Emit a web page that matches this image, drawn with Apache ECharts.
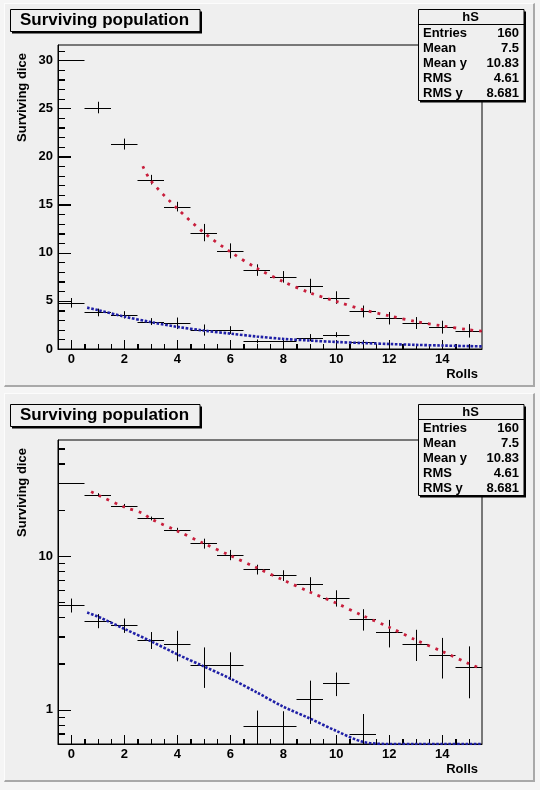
<!DOCTYPE html>
<html><head><meta charset="utf-8">
<script src="https://cdn.jsdelivr.net/npm/echarts@6/dist/echarts.min.js"></script>
<style>
html,body{margin:0;padding:0;background:#f5f5f5;}
#wrap{position:relative;width:540px;height:790px;overflow:hidden;}
.pad{position:absolute;box-sizing:border-box;background:#efefef;border-top:1px solid #fcfcfc;border-left:1px solid #fcfcfc;border-right:2px solid #a9a9a9;border-bottom:2px solid #a9a9a9;}
#chart{position:absolute;left:0;top:0;width:540px;height:790px;}
</style></head>
<body>
<div id="wrap">
<div class="pad" style="left:4px;top:3px;width:531px;height:384px"></div>
<div class="pad" style="left:4px;top:393px;width:531px;height:389px"></div>
<div id="chart"></div>
</div>
<script>
// ---- data ----
const bins = [0,1,2,3,4,5,6,7,8,9,10,11,12,13,14,15];
const survivors   = [30.0,25.1,21.3,17.6,14.8,12.1,10.2,8.2,7.5,6.55,5.35,3.9,3.2,2.7,2.27,1.89];
const survivorErr = [0,0.6,0.57,0.5,0.5,0.9,0.78,0.6,0.6,0.75,0.65,0.62,0.65,0.62,0.67,0.7];
const dieCount    = [4.8,3.8,3.55,2.85,2.67,1.97,1.97,0.79,0.79,1.18,1.49,0.70,0,0,0,0];
const dieErr      = [0.5,0.4,0.38,0.36,0.6,0.58,0.4,0.2,0.19,0.37,0.26,0.24,0,0,0,0];
const redCurveX  = [0.75,1,2,2.7,3,4,5,6,7,8,9,10,11,12,13,14,15,15.5];
const redCurveY  = [26.3,25.0,20.9,19.0,17.5,14.6,12.1,10.1,8.4,7.0,5.85,4.95,4.1,3.45,2.85,2.4,2.0,1.85];
const blueCurveX = [0.6,1,2,3,4,5,6,7,8,9,10,11,12,13,14,15,15.5];
const blueCurveY = [4.3,4.05,3.37,2.8,2.3,1.92,1.6,1.3,1.05,0.88,0.73,0.62,0.52,0.43,0.36,0.3,0.27];
const xTickMajor = [0,2,4,6,8,10,12,14];
const xTickMinor = [0.5,1,1.5,2.5,3,3.5,4.5,5,5.5,6.5,7,7.5,8.5,9,9.5,10.5,11,11.5,12.5,13,13.5,14.5,15];
const linTickMajor = [0,5,10,15,20,25,30];
const linTickMinor = [1,2,3,4,6,7,8,9,11,12,13,14,16,17,18,19,21,22,23,24,26,27,28,29,31];
const logTickMajor = [1,10];
const logTickMinor = [0.7,0.8,0.9,2,3,4,5,6,7,8,9,20,30,40,50];
const statLabels = ['Entries','Mean','Mean y','RMS','RMS y'];
const statValues = ['160','7.5','10.83','4.61','8.681'];
const titleText = 'Surviving population';
const statsTitle = 'hS';
const xTitle = 'Rolls';
const yTitle = 'Surviving dice';

const X_MIN = -0.5, X_MAX = 15.5, LIN_MAX = 31.6, LOG_MIN = 0.6, LOG_MAX = 57;
const FONT = '"Liberation Sans", Arial, Helvetica, sans-serif';
const PANEL_DY = 395;
const TICK_LEN = [9, 5, 13, 7]; // x major, x minor, y major, y minor

function vLine(x, y1, y2){ const xx = Math.round(x) + 0.5; return {type:'polyline', shape:{points:[[xx, y1],[xx, y2]]}, style:{stroke:'#000', lineWidth:1, fill:null}}; }
function hLine(x1, x2, y){ const yy = Math.round(y) + 0.5; return {type:'polyline', shape:{points:[[x1, yy],[x2, yy]]}, style:{stroke:'#000', lineWidth:1, fill:null}}; }

// ROOT-style inside tick marks, placed through the axis scales (api.coord)
function tickChildren(api, isLog){
  const out = [];
  const yBase = isLog ? LOG_MIN : 0;
  const yMaj = isLog ? logTickMajor : linTickMajor;
  const yMin = isLog ? logTickMinor : linTickMinor;
  xTickMajor.forEach(v=>{ const p = api.coord([v, yBase]); out.push(vLine(p[0], p[1], p[1]-TICK_LEN[0])); });
  xTickMinor.forEach(v=>{ const p = api.coord([v, yBase]); out.push(vLine(p[0], p[1], p[1]-TICK_LEN[1])); });
  yMaj.forEach(v=>{ const p = api.coord([X_MIN, v]); out.push(hLine(p[0], p[0]+TICK_LEN[2], p[1])); });
  yMin.forEach(v=>{ const p = api.coord([X_MIN, v]); out.push(hLine(p[0], p[0]+TICK_LEN[3], p[1])); });
  return out;
}

function makeCross(isLog, withTicks){
  return function(params, api){
    const x = api.value(0), y = api.value(1), e = api.value(2);
    let lo = y - e, hi = y + e;
    if (isLog) { lo = Math.max(lo, LOG_MIN); hi = Math.min(hi, LOG_MAX); }
    else { lo = Math.max(lo, 0); hi = Math.min(hi, LIN_MAX); }
    const a = api.coord([x - 0.5, y]), b = api.coord([x + 0.5, y]);
    const children = [hLine(a[0], b[0], a[1])];
    if (e > 0) {
      const t = api.coord([x, hi]), u = api.coord([x, lo]);
      children.push(vLine(t[0], t[1], u[1]));
    }
    if (withTicks && params.dataIndexInside === 0) {
      tickChildren(api, isLog).forEach(c=>children.push(c));
    }
    return {type:'group', children};
  };
}

const labelStyle = {fontFamily: FONT, fontWeight: 'bold', fontSize: 13, color: '#000'};
const tickLine = {color:'#000', width:1};

function xAxesFor(g){
  return [
    {gridIndex:g, type:'value', min:X_MIN, max:X_MAX,
     axisLine:{show:true, onZero:false, lineStyle:{color:'#000', width:1}},
     axisTick:{show:true, inside:true, length:TICK_LEN[0], customValues:xTickMajor, lineStyle:tickLine},
     axisLabel:Object.assign({show:true, margin:4, customValues:xTickMajor}, labelStyle),
     splitLine:{show:false}},
    {gridIndex:g, type:'value', min:X_MIN, max:X_MAX, position:'bottom',
     axisLine:{show:false, onZero:false},
     axisTick:{show:true, inside:true, length:TICK_LEN[1], customValues:xTickMinor, lineStyle:tickLine},
     axisLabel:{show:false, customValues:xTickMinor}, splitLine:{show:false}}
  ];
}
function yAxesFor(g, isLog){
  const base = isLog ? {type:'log', logBase:10, min:LOG_MIN, max:LOG_MAX} : {type:'value', min:0, max:LIN_MAX};
  return [
    Object.assign({gridIndex:g,
     axisLine:{show:true, onZero:false, lineStyle:{color:'#000', width:1}},
     axisTick:{show:true, inside:true, length:TICK_LEN[2], customValues:isLog?logTickMajor:linTickMajor, lineStyle:tickLine},
     axisLabel:Object.assign({show:true, margin:5, customValues:isLog?logTickMajor:linTickMajor}, labelStyle),
     splitLine:{show:false}}, base),
    Object.assign({gridIndex:g, position:'left',
     axisLine:{show:false, onZero:false},
     axisTick:{show:true, inside:true, length:TICK_LEN[3], customValues:isLog?logTickMinor:linTickMinor, lineStyle:tickLine},
     axisLabel:{show:false, customValues:isLog?logTickMinor:linTickMinor}, splitLine:{show:false}}, base)
  ];
}

function seriesFor(g, isLog){
  const ax = g * 2;
  const up = bins.map((b,i)=>[b, survivors[i], survivorErr[i]]).filter(d=>!isLog || d[1] > 0);
  const dn = bins.map((b,i)=>[b, dieCount[i], dieErr[i]]).filter(d=>!isLog || d[1] > 0);
  let red = redCurveX.map((x,i)=>[x, redCurveY[i]]);
  if (!isLog) red = red.filter(d=>d[0] >= 2.7);
  const blue = blueCurveX.map((x,i)=>[x, isLog ? Math.max(blueCurveY[i], LOG_MIN) : blueCurveY[i]]);
  return [
    {type:'custom', xAxisIndex:ax, yAxisIndex:ax, renderItem:makeCross(isLog, true), data:up, encode:{x:0,y:1}, silent:true, z:3},
    {type:'custom', xAxisIndex:ax, yAxisIndex:ax, renderItem:makeCross(isLog, false), data:dn, encode:{x:0,y:1}, silent:true, z:3},
    {type:'line', xAxisIndex:ax, yAxisIndex:ax, data:red, showSymbol:false, symbol:'none', smooth:0.3, silent:true, z:4,
     lineStyle:{color:'#c81e3c', width:2.8, type:[2.8,5.8], cap:'butt'}},
    {type:'line', xAxisIndex:ax, yAxisIndex:ax, data:blue, showSymbol:false, symbol:'none', smooth:0.3, silent:true, z:4,
     lineStyle:{color:'#1f1fa6', width:2.6, type:[2.6,1.6], cap:'butt'}}
  ];
}

function txt(x, y, text, size, align, vAlign, extra){
  return Object.assign({type:'text', x:x, y:y, z:110, silent:true,
    style:{text:text, font:'bold '+size+'px '+FONT, fill:'#000', align:align, textAlign:align, verticalAlign:vAlign, textVerticalAlign:vAlign}}, extra||{});
}

function panelGraphics(dy){
  const els = [];
  els.push({type:'rect', z:100, silent:true, shape:{x:12, y:11.5+dy, width:190, height:22}, style:{fill:'#000'}});
  els.push({type:'rect', z:101, silent:true, shape:{x:10.5, y:9.5+dy, width:189.5, height:22}, style:{fill:'#efefef', stroke:'#000', lineWidth:1}});
  els.push(txt(20, 20 + dy, titleText, 17, 'left', 'middle'));
  els.push({type:'rect', z:100, silent:true, shape:{x:420, y:11.5+dy, width:106, height:91}, style:{fill:'#000'}});
  els.push({type:'rect', z:101, silent:true, shape:{x:418.5, y:9.5+dy, width:105.5, height:91}, style:{fill:'#efefef', stroke:'#000', lineWidth:1}});
  els.push({type:'line', z:102, silent:true, shape:{x1:418.5, y1:24.5+dy, x2:524, y2:24.5+dy}, style:{stroke:'#000', lineWidth:1}});
  els.push(txt(470.5, 17.5 + dy, statsTitle, 13, 'center', 'middle'));
  statLabels.forEach((lab, i)=>{
    const y = 33 + i*15 + dy;
    els.push(txt(423, y, lab, 13, 'left', 'middle'));
    els.push(txt(519, y, statValues[i], 13, 'right', 'middle'));
  });
  els.push(txt(478, 374 + dy, xTitle, 13, 'right', 'middle'));
  els.push(txt(22, 97.5 + dy, yTitle, 13, 'center', 'middle', {rotation: Math.PI/2}));
  return els;
}

const chart = echarts.init(document.getElementById('chart'));
chart.setOption({
  animation:false,
  backgroundColor:'transparent',
  grid:[
    {left:58, top:45, width:424, height:304, show:true, borderColor:'#000', borderWidth:1},
    {left:58, top:45+PANEL_DY, width:424, height:304, show:true, borderColor:'#000', borderWidth:1}
  ],
  xAxis: xAxesFor(0).concat(xAxesFor(1)),
  yAxis: yAxesFor(0,false).concat(yAxesFor(1,true)),
  series: seriesFor(0,false).concat(seriesFor(1,true)),
  graphic: {elements: panelGraphics(0).concat(panelGraphics(PANEL_DY))}
});
</script>
</body></html>
